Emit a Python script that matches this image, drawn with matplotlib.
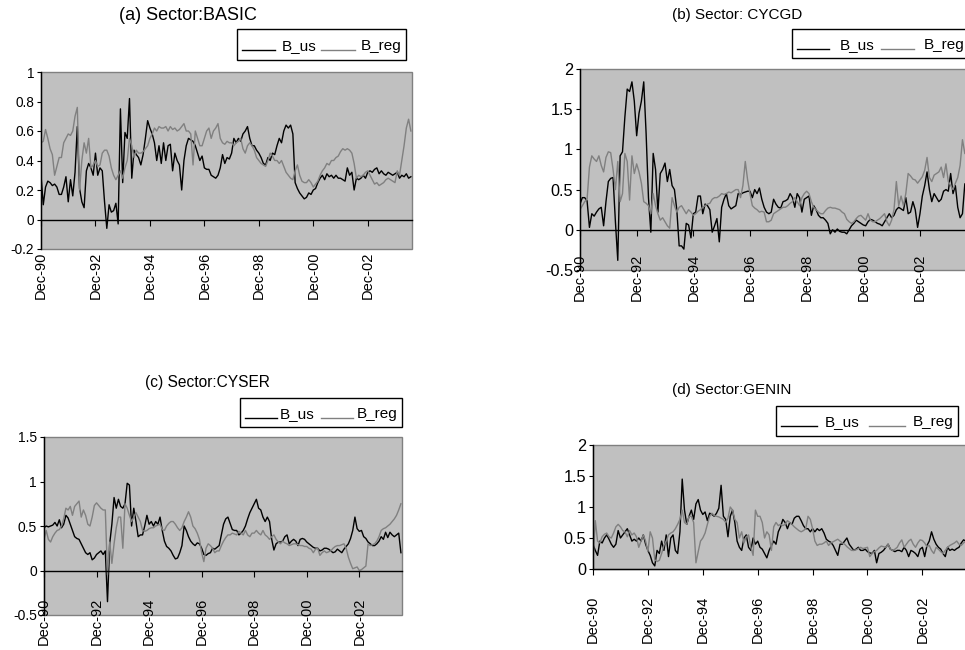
import numpy as np
import matplotlib
matplotlib.use("Agg")
import matplotlib.pyplot as plt
from matplotlib.ticker import FixedLocator, FuncFormatter
from matplotlib.legend_handler import HandlerLine2D
from matplotlib.lines import Line2D

plt.rcParams['font.family'] = ['Liberation Sans', 'DejaVu Sans']

# monthly betas, Dec-90 .. Jul-04
tick_labels = ['Dec-90', 'Dec-92', 'Dec-94', 'Dec-96', 'Dec-98', 'Dec-00', 'Dec-02']

basic_us = [0.30,
            0.10, 0.22, 0.26, 0.25, 0.23, 0.24, 0.22, 0.17, 0.17, 0.22, 0.29, 0.12,
            0.27, 0.16, 0.32, 0.63, 0.21, 0.12, 0.08, 0.33, 0.38, 0.35, 0.30, 0.45,
            0.30, 0.35, 0.33, 0.12, -0.06, 0.10, 0.05, 0.06, 0.11, -0.03, 0.75, 0.25,
            0.59, 0.55, 0.82, 0.28, 0.47, 0.44, 0.42, 0.37, 0.44, 0.55, 0.67, 0.62,
            0.58, 0.52, 0.40, 0.50, 0.38, 0.52, 0.40, 0.50, 0.51, 0.33, 0.45, 0.40,
            0.37, 0.20, 0.40, 0.50, 0.55, 0.54, 0.53, 0.50, 0.45, 0.40, 0.43, 0.35,
            0.34, 0.34, 0.30, 0.29, 0.28, 0.30, 0.35, 0.44, 0.38, 0.42, 0.41, 0.45,
            0.55, 0.52, 0.55, 0.53, 0.58, 0.60, 0.63, 0.55, 0.50, 0.50, 0.47, 0.45,
            0.42, 0.38, 0.37, 0.42, 0.40, 0.45, 0.44, 0.50, 0.55, 0.52, 0.60, 0.64,
            0.62, 0.64, 0.58, 0.25, 0.21, 0.18, 0.16, 0.14, 0.15, 0.18, 0.17, 0.20,
            0.21, 0.25, 0.28, 0.30, 0.27, 0.31, 0.29, 0.30, 0.28, 0.30, 0.28, 0.28,
            0.27, 0.26, 0.35, 0.30, 0.32, 0.20, 0.28, 0.27, 0.28, 0.30, 0.28, 0.32,
            0.33, 0.32, 0.34, 0.35, 0.31, 0.33, 0.31, 0.30, 0.32, 0.31, 0.30, 0.31,
            0.32, 0.28, 0.30, 0.29, 0.31, 0.28, 0.29]
basic_reg = [0.52,
             0.53, 0.61, 0.55, 0.48, 0.44, 0.30, 0.36, 0.42, 0.42, 0.52, 0.55, 0.58,
             0.57, 0.60, 0.70, 0.76, 0.20, 0.40, 0.52, 0.45, 0.55, 0.35, 0.37, 0.40,
             0.36, 0.37, 0.45, 0.47, 0.47, 0.43, 0.35, 0.30, 0.27, 0.30, 0.33, 0.28,
             0.35, 0.40, 0.55, 0.50, 0.42, 0.47, 0.45, 0.45, 0.46, 0.48, 0.50, 0.55,
             0.58, 0.62, 0.60, 0.63, 0.62, 0.62, 0.63, 0.60, 0.63, 0.61, 0.62, 0.60,
             0.61, 0.63, 0.65, 0.60, 0.60, 0.58, 0.37, 0.60, 0.55, 0.50, 0.50, 0.55,
             0.60, 0.62, 0.55, 0.60, 0.62, 0.65, 0.55, 0.52, 0.51, 0.53, 0.52, 0.52,
             0.50, 0.52, 0.53, 0.55, 0.48, 0.45, 0.50, 0.52, 0.50, 0.47, 0.42, 0.40,
             0.38, 0.37, 0.36, 0.40, 0.45, 0.43, 0.40, 0.40, 0.38, 0.40, 0.36, 0.32,
             0.30, 0.28, 0.27, 0.33, 0.37, 0.30, 0.26, 0.25, 0.25, 0.27, 0.25, 0.22,
             0.24, 0.26, 0.30, 0.33, 0.35, 0.38, 0.37, 0.40, 0.40, 0.42, 0.43, 0.46,
             0.48, 0.47, 0.48, 0.47, 0.45, 0.38, 0.28, 0.30, 0.29, 0.30, 0.32, 0.33,
             0.30, 0.27, 0.24, 0.25, 0.23, 0.24, 0.25, 0.27, 0.28, 0.27, 0.26, 0.25,
             0.33, 0.30, 0.40, 0.50, 0.62, 0.68, 0.60]

cycgd_us = [0.32,
            0.40, 0.40, 0.36, 0.03, 0.20, 0.17, 0.22, 0.26, 0.28, 0.05, 0.35, 0.60,
            0.64, 0.65, 0.10, -0.38, 0.92, 0.97, 1.40, 1.75, 1.72, 1.84, 1.60, 1.17,
            1.45, 1.60, 1.84, 1.20, 0.40, -0.03, 0.95, 0.75, 0.22, 0.70, 0.75, 0.83,
            0.60, 0.75, 0.55, 0.50, 0.25, -0.20, -0.20, -0.24, 0.08, 0.06, -0.10, 0.20,
            0.22, 0.42, 0.42, 0.20, 0.32, 0.30, 0.25, -0.03, 0.05, 0.14, -0.15, 0.28,
            0.38, 0.45, 0.30, 0.26, 0.28, 0.30, 0.45, 0.44, 0.46, 0.47, 0.48, 0.48,
            0.40, 0.50, 0.45, 0.52, 0.38, 0.28, 0.22, 0.20, 0.22, 0.38, 0.32, 0.28,
            0.27, 0.35, 0.36, 0.38, 0.45, 0.40, 0.28, 0.45, 0.40, 0.22, 0.38, 0.40,
            0.42, 0.18, 0.30, 0.25, 0.18, 0.15, 0.15, 0.12, 0.08, -0.05, 0.00, -0.03,
            0.01, -0.02, -0.03, -0.03, -0.05, 0.00, 0.05, 0.08, 0.12, 0.10, 0.08, 0.06,
            0.05, 0.10, 0.13, 0.12, 0.10, 0.08, 0.07, 0.05, 0.10, 0.15, 0.20, 0.15,
            0.18, 0.25, 0.28, 0.26, 0.24, 0.40, 0.20, 0.22, 0.35, 0.25, 0.03, 0.20,
            0.42, 0.55, 0.72, 0.50, 0.35, 0.45, 0.40, 0.35, 0.38, 0.48, 0.50, 0.48,
            0.70, 0.45, 0.55, 0.28, 0.15, 0.20, 0.57]
cycgd_reg = [0.25,
             0.30, 0.35, 0.38, 0.78, 0.92, 0.88, 0.85, 0.92, 0.80, 0.72, 0.90, 0.97,
             0.96, 0.75, 0.50, 0.85, 0.35, 0.45, 0.95, 0.85, 0.37, 0.92, 0.70, 0.82,
             0.72, 0.58, 0.35, 0.33, 0.30, 0.20, 0.45, 0.30, 0.20, 0.12, 0.15, 0.10,
             0.05, 0.02, 0.40, 0.30, 0.22, 0.28, 0.30, 0.25, 0.20, 0.25, 0.22, 0.18,
             0.20, 0.23, 0.25, 0.28, 0.30, 0.32, 0.33, 0.38, 0.40, 0.40, 0.42, 0.45,
             0.44, 0.45, 0.47, 0.46, 0.48, 0.50, 0.50, 0.40, 0.55, 0.85, 0.62, 0.45,
             0.30, 0.27, 0.25, 0.22, 0.23, 0.22, 0.10, 0.10, 0.12, 0.20, 0.22, 0.24,
             0.26, 0.28, 0.28, 0.30, 0.33, 0.35, 0.40, 0.35, 0.30, 0.40, 0.45, 0.48,
             0.45, 0.35, 0.28, 0.25, 0.22, 0.20, 0.20, 0.24, 0.27, 0.28, 0.27, 0.27,
             0.26, 0.25, 0.22, 0.20, 0.13, 0.10, 0.08, 0.10, 0.14, 0.17, 0.18, 0.15,
             0.12, 0.20, 0.12, 0.10, 0.10, 0.12, 0.14, 0.17, 0.20, 0.10, 0.05, 0.12,
             0.25, 0.60, 0.30, 0.42, 0.30, 0.45, 0.70, 0.67, 0.63, 0.62, 0.58, 0.62,
             0.66, 0.74, 0.90, 0.65, 0.60, 0.68, 0.70, 0.72, 0.78, 0.65, 0.82, 0.60,
             0.55, 0.50, 0.58, 0.65, 0.80, 1.12, 0.95]

cyser_us = [0.48,
            0.50, 0.49, 0.50, 0.51, 0.54, 0.50, 0.57, 0.48, 0.52, 0.62, 0.59, 0.52,
            0.45, 0.38, 0.36, 0.35, 0.30, 0.25, 0.20, 0.18, 0.20, 0.12, 0.14, 0.18,
            0.20, 0.22, 0.18, 0.22, -0.35, 0.30, 0.52, 0.82, 0.70, 0.80, 0.72, 0.70,
            0.75, 0.98, 0.96, 0.50, 0.70, 0.55, 0.38, 0.40, 0.40, 0.50, 0.62, 0.52,
            0.55, 0.50, 0.55, 0.52, 0.60, 0.45, 0.33, 0.27, 0.25, 0.22, 0.17, 0.13,
            0.14, 0.20, 0.28, 0.50, 0.45, 0.38, 0.33, 0.30, 0.28, 0.31, 0.30, 0.25,
            0.18, 0.17, 0.19, 0.20, 0.25, 0.24, 0.26, 0.28, 0.40, 0.52, 0.58, 0.60,
            0.53, 0.46, 0.45, 0.45, 0.40, 0.42, 0.45, 0.50, 0.58, 0.65, 0.70, 0.75,
            0.80, 0.70, 0.68, 0.60, 0.55, 0.60, 0.55, 0.35, 0.23, 0.30, 0.32, 0.32,
            0.33, 0.38, 0.40, 0.30, 0.33, 0.35, 0.33, 0.28, 0.35, 0.36, 0.35, 0.32,
            0.30, 0.28, 0.26, 0.25, 0.25, 0.22, 0.23, 0.25, 0.25, 0.24, 0.22, 0.20,
            0.21, 0.24, 0.22, 0.20, 0.24, 0.27, 0.30, 0.36, 0.45, 0.60, 0.47, 0.44,
            0.45, 0.38, 0.36, 0.32, 0.30, 0.28, 0.28, 0.30, 0.33, 0.38, 0.35, 0.43,
            0.37, 0.43, 0.40, 0.38, 0.40, 0.42, 0.20]
cyser_reg = [0.35,
             0.45, 0.35, 0.32, 0.38, 0.42, 0.45, 0.46, 0.50, 0.58, 0.70, 0.68, 0.72,
             0.62, 0.72, 0.75, 0.78, 0.60, 0.68, 0.62, 0.52, 0.50, 0.60, 0.73, 0.76,
             0.73, 0.70, 0.68, 0.68, -0.05, 0.32, 0.08, 0.30, 0.48, 0.60, 0.60, 0.25,
             0.75, 0.70, 0.62, 0.55, 0.60, 0.65, 0.60, 0.55, 0.45, 0.44, 0.45, 0.47,
             0.48, 0.48, 0.50, 0.51, 0.52, 0.46, 0.45, 0.50, 0.53, 0.55, 0.55, 0.52,
             0.48, 0.45, 0.48, 0.55, 0.60, 0.66, 0.60, 0.50, 0.47, 0.42, 0.35, 0.20,
             0.10, 0.25, 0.30, 0.28, 0.25, 0.20, 0.22, 0.22, 0.28, 0.33, 0.37, 0.40,
             0.40, 0.42, 0.41, 0.40, 0.44, 0.42, 0.40, 0.45, 0.40, 0.38, 0.42, 0.42,
             0.45, 0.42, 0.40, 0.45, 0.40, 0.38, 0.35, 0.38, 0.40, 0.35, 0.32, 0.30,
             0.33, 0.31, 0.30, 0.28, 0.29, 0.30, 0.30, 0.29, 0.28, 0.28, 0.27, 0.27,
             0.25, 0.24, 0.20, 0.24, 0.25, 0.17, 0.20, 0.22, 0.20, 0.21, 0.22, 0.25,
             0.27, 0.28, 0.28, 0.29, 0.30, 0.25, 0.15, 0.08, 0.02, 0.03, 0.04, 0.00,
             0.01, 0.03, 0.05, 0.30, 0.28, 0.29, 0.30, 0.33, 0.38, 0.45, 0.47, 0.48,
             0.50, 0.52, 0.55, 0.58, 0.62, 0.68, 0.75]

genin_us = [0.40,
            0.30, 0.22, 0.45, 0.42, 0.50, 0.55, 0.48, 0.40, 0.35, 0.40, 0.62, 0.50,
            0.55, 0.60, 0.65, 0.55, 0.45, 0.48, 0.45, 0.50, 0.45, 0.55, 0.40, 0.30,
            0.22, 0.10, 0.05, 0.30, 0.25, 0.45, 0.30, 0.55, 0.20, 0.50, 0.55, 0.30,
            0.25, 0.60, 1.45, 0.95, 0.72, 0.85, 0.95, 0.80, 1.05, 1.12, 0.95, 0.88,
            0.92, 0.78, 0.90, 0.88, 0.85, 0.90, 0.98, 1.35, 0.85, 0.80, 0.52, 0.85,
            0.95, 0.75, 0.45, 0.35, 0.30, 0.50, 0.55, 0.35, 0.30, 0.50, 0.40, 0.45,
            0.35, 0.32, 0.25, 0.18, 0.30, 0.38, 0.45, 0.40, 0.60, 0.68, 0.80, 0.75,
            0.65, 0.75, 0.72, 0.82, 0.85, 0.85, 0.78, 0.70, 0.65, 0.65, 0.60, 0.65,
            0.60, 0.65, 0.62, 0.65, 0.58, 0.48, 0.45, 0.43, 0.38, 0.30, 0.22, 0.40,
            0.40, 0.45, 0.50, 0.40, 0.35, 0.30, 0.32, 0.35, 0.30, 0.30, 0.32, 0.28,
            0.26, 0.25, 0.30, 0.10, 0.25, 0.27, 0.30, 0.35, 0.40, 0.32, 0.30, 0.28,
            0.30, 0.30, 0.28, 0.35, 0.30, 0.20, 0.30, 0.28, 0.25, 0.20, 0.32, 0.35,
            0.20, 0.38, 0.45, 0.60, 0.48, 0.40, 0.35, 0.32, 0.25, 0.20, 0.35, 0.30,
            0.32, 0.30, 0.33, 0.35, 0.42, 0.47, 0.45]
genin_reg = [0.12,
             0.78, 0.45, 0.42, 0.52, 0.56, 0.58, 0.52, 0.50, 0.58, 0.68, 0.72, 0.68,
             0.62, 0.60, 0.52, 0.62, 0.55, 0.58, 0.52, 0.35, 0.45, 0.55, 0.45, 0.28,
             0.60, 0.50, 0.15, 0.12, 0.14, 0.25, 0.38, 0.45, 0.55, 0.58, 0.60, 0.65,
             0.72, 0.80, 0.95, 0.75, 0.72, 0.85, 0.85, 0.75, 0.10, 0.28, 0.45, 0.50,
             0.58, 0.72, 0.85, 0.90, 0.86, 0.85, 0.84, 0.82, 0.80, 0.75, 0.82, 1.00,
             0.95, 0.80, 0.75, 0.50, 0.60, 0.42, 0.52, 0.55, 0.35, 0.22, 0.95, 0.85,
             0.85, 0.75, 0.50, 0.60, 0.55, 0.30, 0.68, 0.75, 0.70, 0.72, 0.70, 0.72,
             0.78, 0.75, 0.72, 0.68, 0.65, 0.62, 0.60, 0.62, 0.65, 0.85, 0.80, 0.65,
             0.45, 0.38, 0.40, 0.40, 0.42, 0.45, 0.38, 0.42, 0.44, 0.46, 0.48, 0.45,
             0.42, 0.40, 0.36, 0.33, 0.30, 0.30, 0.31, 0.33, 0.35, 0.33, 0.34, 0.35,
             0.20, 0.25, 0.28, 0.30, 0.34, 0.37, 0.36, 0.35, 0.40, 0.32, 0.30, 0.32,
             0.35, 0.42, 0.47, 0.35, 0.40, 0.45, 0.48, 0.40, 0.35, 0.42, 0.47, 0.46,
             0.42, 0.36, 0.38, 0.30, 0.25, 0.35, 0.32, 0.28, 0.25, 0.30, 0.35, 0.38,
             0.40, 0.42, 0.45, 0.40, 0.38, 0.42, 0.45]

months = np.arange(len(basic_us))
tick_pos = np.arange(0, len(basic_us), 24)

W, H = 965, 650
fig = plt.figure(figsize=(W / 100, H / 100), dpi=100)


def fx(px):
    return px / W


def fy(px):
    return 1 - px / H


class BaselineLine(HandlerLine2D):
    # legend sample drawn on the text baseline, like the original
    def create_artists(self, legend, orig_handle, xdescent, ydescent,
                       width, height, fontsize, trans):
        arts = super().create_artists(legend, orig_handle, xdescent, ydescent,
                                      width, height, fontsize, trans)
        for a in arts:
            a.set_ydata(np.full(len(a.get_xdata()), 0.0))
        return arts


panels = [
    dict(title='(a) Sector:BASIC', us=basic_us, reg=basic_reg, box=(41, 72, 412, 249),
         ylim=(-0.2, 1.0), ystep=0.2, txy=(188, 15), tfs=13, yfs=9.8,
         lxy=(237, 29), hl=2.2, htp=0.4, cs=0.35, hh=1.85, pad=19),
    dict(title='(b) Sector: CYCGD', us=cycgd_us, reg=cycgd_reg, box=(580, 69, 966, 270),
         ylim=(-0.5, 2.0), ystep=0.5, txy=(737, 15), tfs=11, yfs=11.7,
         lxy=(792, 29), hl=2.15, htp=0.65, cs=0.45, hh=1.65, pad=13),
    dict(title='(c) Sector:CYSER', us=cyser_us, reg=cyser_reg, box=(44, 437, 402, 615),
         ylim=(-0.5, 1.5), ystep=0.5, txy=(207, 383), tfs=11.2, yfs=10,
         lxy=(240, 398), hl=2.1, htp=0.2, cs=0.45, hh=1.65, pad=15.5),
    dict(title='(d) Sector:GENIN', us=genin_us, reg=genin_reg, box=(593, 445, 967, 569),
         ylim=(0.0, 2.0), ystep=0.5, txy=(732, 390), tfs=11, yfs=11.7,
         lxy=(776, 406), hl=2.4, htp=0.5, cs=0.6, hh=1.7, pad=15),
]

for p in panels:
    l, t, r, b = p['box']
    ax = fig.add_axes([fx(l), fy(b), fx(r - l), (b - t) / H])
    ax.set_facecolor('#C0C0C0')
    ax.patch.set_edgecolor('#808080')
    ax.patch.set_linewidth(1.0)
    l_us, = ax.plot(months, p['us'], color='black', lw=1.0)
    l_reg, = ax.plot(months, p['reg'], color='#808080', lw=1.0)
    ax.set_xlim(0, 163.5)
    ax.set_ylim(*p['ylim'])

    for s in ('top', 'right'):
        ax.spines[s].set_visible(False)
    ax.spines['left'].set_color('black')
    ax.spines['left'].set_linewidth(1.0)
    ax.spines['bottom'].set_position(('data', 0))
    ax.spines['bottom'].set_color('black')
    ax.spines['bottom'].set_linewidth(1.0)

    ax.xaxis.set_major_locator(FixedLocator(tick_pos))
    ax.set_xticklabels(tick_labels, rotation=90, fontsize=10.5)
    ax.tick_params(axis='x', direction='out', length=4, width=0.8, pad=p['pad'])
    ylo, yhi = p['ylim']
    ax.yaxis.set_major_locator(FixedLocator(np.arange(ylo, yhi + 1e-9, p['ystep'])))
    ax.yaxis.set_major_formatter(FuncFormatter(lambda v, pos: f'{round(v, 2) + 0.0:g}'))
    ax.tick_params(axis='y', direction='out', length=3, width=0.8, pad=2,
                   labelsize=p['yfs'])

    tx, ty = p['txy']
    fig.text(fx(tx), fy(ty), p['title'], ha='center', va='center', fontsize=p['tfs'])

    lx, ly = p['lxy']
    leg = fig.legend([l_us, l_reg], ['B_us', 'B_reg'], ncol=2, loc='upper left',
                     bbox_to_anchor=(fx(lx), fy(ly)), borderaxespad=0,
                     frameon=True, fancybox=False, framealpha=1, edgecolor='black',
                     fontsize=11, handlelength=p['hl'], handletextpad=p['htp'],
                     columnspacing=p['cs'], borderpad=0.3, handleheight=p['hh'],
                     handler_map={Line2D: BaselineLine()})
    leg.get_frame().set_linewidth(1.0)

fig.savefig('out.png', dpi=100)
